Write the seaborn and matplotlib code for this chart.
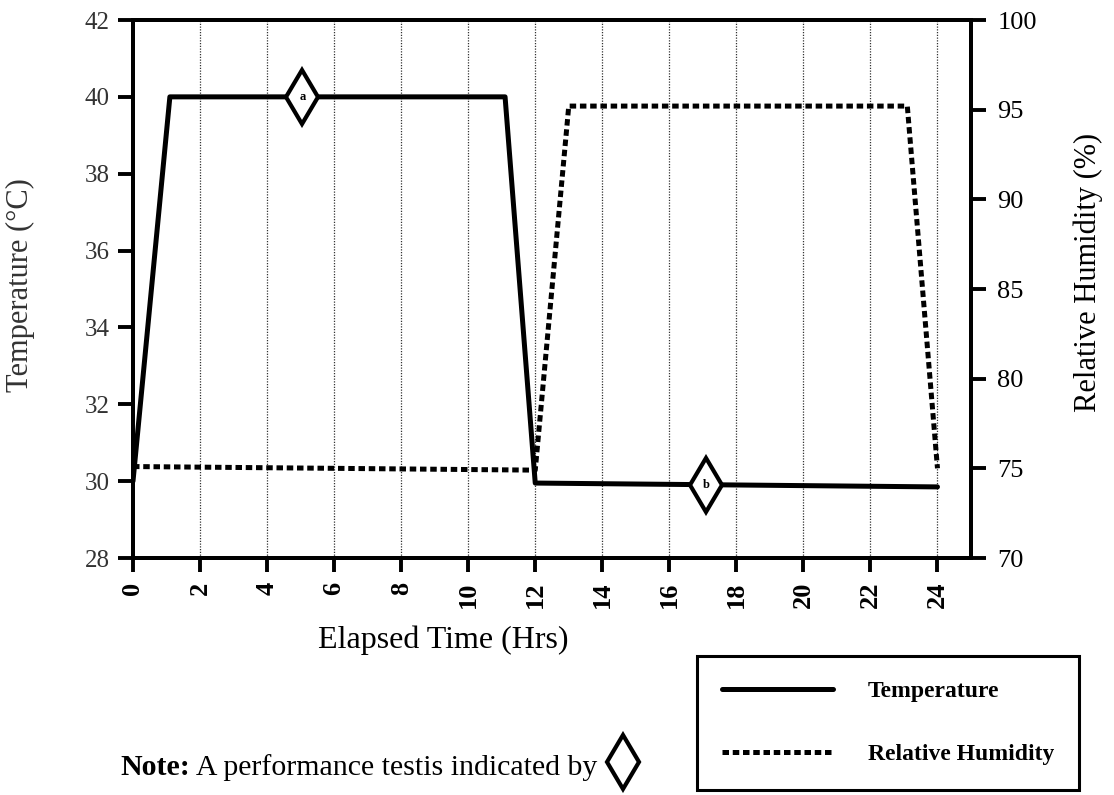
import matplotlib
matplotlib.use("Agg")
import matplotlib.pyplot as plt
from matplotlib.lines import Line2D
import seaborn as sns

# values
time_temp = [0, 1.1, 11.1, 12, 24]
temperature = [30.0, 40.0, 40.0, 29.95, 29.85]
time_rh = [0, 12, 13, 23.1, 24]
humidity = [75.1, 74.9, 95.2, 95.2, 75.0]
test_times = [5.05, 17.1]
test_temps = [40.0, 29.9]
test_labels = ["a", "b"]
x_ticks = list(range(0, 25, 2))
temp_ticks = list(range(28, 43, 2))
rh_ticks = list(range(70, 101, 5))

sns.set_theme(style="ticks")
plt.rcParams["font.family"] = ["Liberation Serif", "DejaVu Serif"]
plt.rcParams["text.color"] = "black"

SERIF = "Liberation Serif"

fig = plt.figure(figsize=(11.14, 7.95), dpi=100)
ax = fig.add_axes([133 / 1114, 1 - 558 / 795, 838 / 1114, 538 / 795])
ax2 = ax.twinx()

# temperature on the left axis
sns.lineplot(x=time_temp, y=temperature, ax=ax, color="black", linewidth=3.6,
             label="Temperature", legend=False, zorder=4)
# humidity on the right axis
sns.lineplot(x=time_rh, y=humidity, ax=ax2, color="black", linewidth=3.6,
             label="Relative Humidity", legend=False, zorder=3)
ax2.lines[0].set_linestyle((0, (1.3, 0.75)))

# performance test markers
ax.plot(test_times, test_temps, linestyle="none", marker="d", markersize=28,
        markerfacecolor="white", markeredgecolor="black", markeredgewidth=3, zorder=6)
for t, v, lab in zip(test_times, test_temps, test_labels):
    ax.text(t, v, lab, ha="center", va="center", fontsize=9, fontweight="bold",
            family=SERIF, zorder=7)

ax.set_xlim(0, 25)
ax.set_ylim(28, 42)
ax2.set_ylim(70, 100)
ax.set_xticks(x_ticks)
ax.set_yticks(temp_ticks)
ax2.set_yticks(rh_ticks)

# vertical dotted grid
for x in x_ticks[1:]:
    ax.axvline(x, color="0.2", linestyle=(0, (1, 1.2)), linewidth=0.9, zorder=1)

for a in (ax, ax2):
    for s in a.spines.values():
        s.set_linewidth(2.8)
        s.set_color("black")
        s.set_visible(True)

ax.tick_params(axis="x", length=10, width=2.8, pad=7, colors="black")
ax.tick_params(axis="y", length=11, width=2.8, pad=6, colors="black")
ax2.tick_params(axis="y", length=11, width=2.8, pad=8, colors="black")

ax.set_xticklabels([str(x) for x in x_ticks], rotation=90, fontsize=19,
                   fontweight="bold", family=SERIF)
ax.set_yticklabels([str(y) for y in temp_ticks], fontsize=18, family=SERIF, color="#333333")
ax2.set_yticklabels([str(y) for y in rh_ticks], fontsize=19, family=SERIF)

ax.set_xlabel("Elapsed Time (Hrs)", fontsize=23, family=SERIF, color="black")
ax.xaxis.set_label_coords(0.37, -0.125)
ax.set_ylabel("Temperature (\u00b0C)", fontsize=22, family=SERIF, color="#333333")
ax.yaxis.set_label_coords(-0.117, 0.507)
ax2.set_ylabel("Relative Humidity (%)", fontsize=22, family=SERIF, color="black")
ax2.yaxis.set_label_coords(1.122, 0.53)

# legend box at the lower right
handles = [ax.lines[0], ax2.lines[0]]
leg = fig.legend(handles, ["Temperature", "Relative Humidity"], loc="lower left",
                 bbox_to_anchor=(697 / 1114, 5 / 795), bbox_transform=fig.transFigure,
                 borderaxespad=0, frameon=True, fancybox=False, edgecolor="black",
                 framealpha=1, handlelength=4.7, handletextpad=1.5, borderpad=1.05,
                 labelspacing=1.75, prop={"family": SERIF, "weight": "bold", "size": 17})
leg.get_frame().set_linewidth(2.2)

# note line
fig.text(120 / 1114, 1 - 775 / 795, "Note:", fontsize=21.5, fontweight="bold",
         family=SERIF, va="baseline", color="black")
fig.text(190 / 1114, 1 - 775 / 795, " A performance testis indicated by", fontsize=21.5,
         family=SERIF, va="baseline", color="black")
fig.add_artist(Line2D([623 / 1114], [1 - 762 / 795], transform=fig.transFigure,
                      linestyle="none", marker="d", markersize=28, markerfacecolor="white",
                      markeredgecolor="black", markeredgewidth=3))

fig.savefig("out.png", dpi=100, facecolor="white")
